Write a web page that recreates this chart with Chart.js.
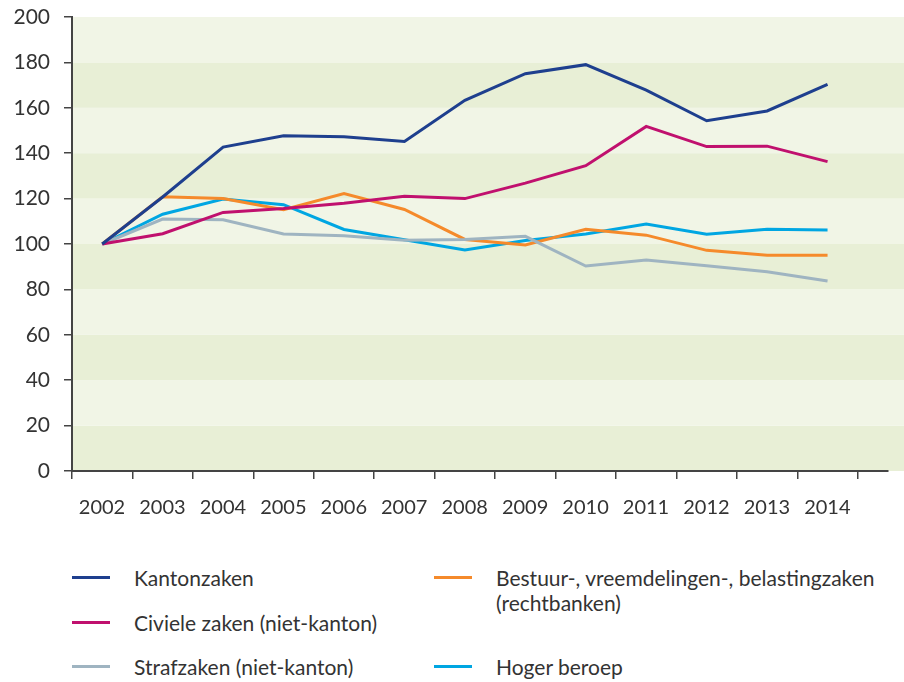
<!DOCTYPE html>
<html>
<head>
<meta charset="utf-8">
<script src="https://cdn.jsdelivr.net/npm/chart.js@4"></script>
<style>
    body { margin: 0; background: #fff; font-family: Lato, "Open Sans", sans-serif; color: #333; }
    #wrap { position: relative; width: 904px; height: 682px; }
    #chartBox { position: absolute; left: 0; top: 0; width: 904px; height: 530px; }
    .legend-item { position: absolute; font-size: 21px; line-height: 25px; color: #333; }
    .legend-item .swatch { position: absolute; left: 0; top: 11px; width: 38px; height: 3px; }
    .legend-item .text { position: absolute; left: 62px; top: 0; white-space: nowrap; }
</style>
</head>
<body>
<div id="wrap">
    <div id="chartBox"><canvas id="trendChart"></canvas></div>
    <div id="legend"></div>
</div>
<script>
// Data (index, 2002 = 100)
const years = ['2002', '2003', '2004', '2005', '2006', '2007', '2008', '2009', '2010', '2011', '2012', '2013', '2014'];
const yTicks = [0, 20, 40, 60, 80, 100, 120, 140, 160, 180, 200];

const kantonzaken = [100, 120.7, 142.7, 147.7, 147.2, 145.2, 163.3, 175.0, 179.0, 167.8, 154.3, 158.6, 170.3];
const civieleZaken = [100, 104.5, 113.9, 115.6, 118.0, 121.0, 120.0, 126.8, 134.5, 151.8, 142.9, 143.1, 136.3];
const bestuurZaken = [100, 120.8, 120.0, 115.1, 122.2, 115.2, 102.0, 99.6, 106.5, 103.9, 97.2, 95.0, 95.0];
const strafzaken = [100, 111.0, 110.7, 104.4, 103.6, 101.6, 102.0, 103.4, 90.3, 93.0, 90.4, 87.8, 83.7];
const hogerBeroep = [100, 113.1, 119.8, 117.3, 106.4, 101.9, 97.4, 101.5, 104.4, 108.8, 104.3, 106.5, 106.2];

const seriesInfo = [
    { label: 'Kantonzaken', values: kantonzaken, color: '#1e3f8e', legend: { x: 72, y: 565 } },
    { label: 'Civiele zaken (niet-kanton)', values: civieleZaken, color: '#c0106e', legend: { x: 72, y: 610 } },
    { label: 'Strafzaken (niet-kanton)', values: strafzaken, color: '#9fb4c1', legend: { x: 72, y: 654 } },
    { label: 'Bestuur-, vreemdelingen-, belastingzaken<br>(rechtbanken)', values: bestuurZaken, color: '#f58a2b', legend: { x: 434, y: 565 } },
    { label: 'Hoger beroep', values: hogerBeroep, color: '#00a6e2', legend: { x: 434, y: 654 } }
];

const bandLight = '#f1f5e6';
const bandDark = '#e8efd6';
const axisColor = '#444';

/* ===========================
   Background band plugin
   =========================== */
const bandPlugin = {
    id: 'bands',
    beforeDraw(chart) {
        const { ctx, chartArea, scales } = chart;
        const y = scales.y;
        ctx.save();
        for (let i = 0; i < yTicks.length - 1; i++) {
            const top = y.getPixelForValue(yTicks[i + 1]);
            const bottom = y.getPixelForValue(yTicks[i]);
            ctx.fillStyle = (i % 2 === 0) ? bandDark : bandLight;
            ctx.fillRect(chartArea.left, top, chart.width - chartArea.left, bottom - top);
        }
        ctx.restore();
    }
};

const datasets = seriesInfo.map(s => ({
    label: s.label,
    data: s.values.map((v, i) => ({ x: i, y: v })),
    borderColor: s.color,
    backgroundColor: s.color,
    borderWidth: 3,
    pointRadius: 0,
    tension: 0,
    fill: false
}));

const ctx = document.getElementById('trendChart').getContext('2d');
const trendChart = new Chart(ctx, {
    type: 'line',
    data: { datasets: datasets },
    options: {
        responsive: true,
        maintainAspectRatio: false,
        animation: false,
        layout: { padding: { top: 17, right: 16, left: 0, bottom: 0 } },
        plugins: {
            legend: { display: false },
            tooltip: { enabled: false }
        },
        scales: {
            x: {
                type: 'linear',
                min: -0.5,
                max: 13,
                afterBuildTicks: (axis) => {
                    axis.ticks = years.map((y, i) => ({ value: i - 0.5 }))
                        .concat([{ value: years.length - 0.5 }]);
                },
                afterFit: (axis) => { axis.height = 59; },
                grid: {
                    drawOnChartArea: false,
                    drawTicks: true,
                    tickLength: 8,
                    color: axisColor,
                    lineWidth: 1.5
                },
                border: { display: true, color: axisColor, width: 2 },
                ticks: {
                    autoSkip: false,
                    maxRotation: 0,
                    labelOffset: 30,
                    padding: 17,
                    color: '#333',
                    font: { family: 'Lato', size: 20 },
                    callback: (value) => years[Math.round(value + 0.5)] || ''
                }
            },
            y: {
                min: 0,
                max: 200,
                afterBuildTicks: (axis) => {
                    axis.ticks = yTicks.map(v => ({ value: v }));
                },
                afterFit: (axis) => {
                    axis.width = 72;
                    axis.paddingTop = 0;
                    axis.paddingBottom = 0;
                },
                grid: {
                    drawOnChartArea: false,
                    drawTicks: true,
                    tickLength: 8,
                    color: axisColor,
                    lineWidth: 1.5
                },
                border: { display: true, color: axisColor, width: 2 },
                ticks: {
                    padding: 14,
                    color: '#333',
                    font: { family: 'Lato', size: 21 }
                }
            }
        }
    },
    plugins: [bandPlugin]
});

// Custom legend in two columns
const legendBox = document.getElementById('legend');
seriesInfo.forEach(s => {
    const item = document.createElement('div');
    item.className = 'legend-item';
    item.style.left = s.legend.x + 'px';
    item.style.top = s.legend.y + 'px';
    item.innerHTML = `<span class="swatch" style="background:${s.color}"></span><span class="text">${s.label}</span>`;
    legendBox.appendChild(item);
});
</script>
</body>
</html>
